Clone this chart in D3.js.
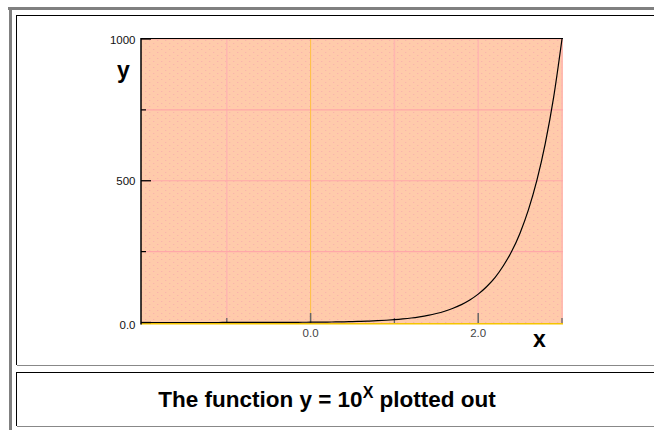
<!DOCTYPE html>
<html><head><meta charset="utf-8">
<script src="https://cdn.jsdelivr.net/npm/d3@7"></script>
<style>html,body{margin:0;padding:0;background:#fff;}svg{display:block;}</style>
</head><body>
<script>
// ---- data ----
const xValues = [-2.0,-1.9,-1.8,-1.7,-1.6,-1.5,-1.4,-1.3,-1.2,-1.1,-1.0,-0.9,-0.8,-0.7,-0.6,-0.5,-0.4,-0.3,-0.2,-0.1,
  0.0,0.1,0.2,0.3,0.4,0.5,0.6,0.7,0.8,0.9,1.0,1.1,1.2,1.3,1.4,1.5,1.6,1.7,1.8,1.9,
  2.0,2.1,2.2,2.3,2.4,2.5,2.6,2.7,2.8,2.9,3.0];
const yValues = [0.01,0.0126,0.0158,0.02,0.0251,0.0316,0.0398,0.0501,0.0631,0.0794,0.1,0.126,0.158,0.2,0.251,0.316,0.398,0.501,0.631,0.794,
  1,1.26,1.58,2.0,2.51,3.16,3.98,5.01,6.31,7.94,10,12.6,15.8,20.0,25.1,31.6,39.8,50.1,63.1,79.4,
  100,126,158,200,251,316,398,501,631,794,1000];
const yTickValues = [0, 500, 1000];
const yTickLabels = ["0.0", "500", "1000"];
const yMinorTicks = [250, 750];
const xTickValues = [0, 2];
const xTickLabels = ["0.0", "2.0"];
const xMinorTicks = [-1, 1, 3];
const xGrid = [-1, 1, 2, 3];
const yGrid = [250, 500, 750, 1000];
const titleMain = "The function y = 10";
const titleSup = "X";
const titleEnd = " plotted out";

// ---- layout ----
const W = 654, H = 430;
const svg = d3.select("body").append("svg").attr("width", W).attr("height", H);
const FONT = "Liberation Sans, Arial, sans-serif";

// outer frame
svg.append("rect").attr("x", 8).attr("y", 7).attr("width", W).attr("height", 3).attr("fill", "#808080");
svg.append("rect").attr("x", 9).attr("y", 7).attr("width", 3).attr("height", H).attr("fill", "#808080");

// panels
function panel(y0, y1) {
  svg.append("line").attr("x1", 16).attr("x2", W).attr("y1", y0 + 0.5).attr("y2", y0 + 0.5).attr("stroke", "#000");
  svg.append("line").attr("x1", 16.5).attr("x2", 16.5).attr("y1", y0).attr("y2", y1).attr("stroke", "#000");
  svg.append("line").attr("x1", 17).attr("x2", W).attr("y1", y1 + 0.5).attr("y2", y1 + 0.5).attr("stroke", "#888");
}
panel(15, 365);
panel(372, 426);

// plot area
const L = 141, R = 563, T = 38.5, B = 323;
const x = d3.scaleLinear().domain([-2, 3]).range([143, 562]);
const y = d3.scaleLinear().domain([0, 1000]).range([322.5, 39]);

const defs = svg.append("defs");
const pat = defs.append("pattern").attr("id", "dots").attr("patternUnits", "userSpaceOnUse")
  .attr("width", 8).attr("height", 6);
pat.append("rect").attr("width", 8).attr("height", 6).attr("fill", "#FFCBAB");
pat.append("rect").attr("x", 1).attr("y", 1).attr("width", 1.3).attr("height", 1).attr("fill", "#F9B3AC");
pat.append("rect").attr("x", 5).attr("y", 4).attr("width", 1.3).attr("height", 1).attr("fill", "#F9B3AC");

svg.append("rect").attr("x", L).attr("y", T).attr("width", R - L).attr("height", B - T).attr("fill", "url(#dots)");

// grid
svg.selectAll(".vg").data(xGrid).enter().append("line")
  .attr("x1", d => x(d)).attr("x2", d => x(d)).attr("y1", T).attr("y2", B)
  .attr("stroke", "#FFB6B0").attr("stroke-width", 1.5);
svg.selectAll(".hg").data(yGrid).enter().append("line")
  .attr("x1", L).attr("x2", R).attr("y1", d => y(d)).attr("y2", d => y(d))
  .attr("stroke", "#FFA8A8").attr("stroke-width", 1.2);
// zero line x=0
svg.append("line").attr("x1", x(0)).attr("x2", x(0)).attr("y1", T).attr("y2", B)
  .attr("stroke", "#FFC040").attr("stroke-width", 1);
// bottom axis (yellow)
svg.append("line").attr("x1", L).attr("x2", R).attr("y1", 323.8).attr("y2", 323.8)
  .attr("stroke", "#F5C400").attr("stroke-width", 1.6);
// top border
svg.append("line").attr("x1", L).attr("x2", R).attr("y1", T).attr("y2", T).attr("stroke", "#000").attr("stroke-width", 1);
// left axis
svg.append("line").attr("x1", 141).attr("x2", 141).attr("y1", T - 0.5).attr("y2", 324.5).attr("stroke", "#000").attr("stroke-width", 1.5);

// y ticks
svg.selectAll(".yt").data(yTickValues).enter().append("line")
  .attr("x1", 141).attr("x2", 151).attr("y1", d => y(d)).attr("y2", d => y(d))
  .attr("stroke", "#000").attr("stroke-width", 1.3);
svg.selectAll(".ym").data(yMinorTicks).enter().append("line")
  .attr("x1", 141).attr("x2", 146).attr("y1", d => y(d)).attr("y2", d => y(d))
  .attr("stroke", "#000").attr("stroke-width", 1.2);
svg.selectAll(".yl").data(yTickValues).enter().append("text")
  .attr("x", 135.5).attr("y", (d, i) => y(d) + (i === 0 ? 6 : 4.5))
  .attr("text-anchor", "end").attr("font-family", FONT)
  .attr("font-size", 11.5).attr("fill", "#111").text((d, i) => yTickLabels[i]);

// x ticks
svg.selectAll(".xt").data(xTickValues).enter().append("line")
  .attr("x1", d => x(d)).attr("x2", d => x(d)).attr("y1", 313).attr("y2", 323)
  .attr("stroke", "#666").attr("stroke-width", 1.5);
svg.selectAll(".xm").data(xMinorTicks).enter().append("line")
  .attr("x1", d => x(d)).attr("x2", d => x(d)).attr("y1", 318).attr("y2", 323)
  .attr("stroke", "#666").attr("stroke-width", 1.3);
svg.selectAll(".xl").data(xTickValues).enter().append("text")
  .attr("x", d => x(d)).attr("y", 336.5).attr("text-anchor", "middle")
  .attr("font-family", FONT).attr("font-size", 11.5)
  .attr("fill", "#444").text((d, i) => xTickLabels[i]);

// curve
const pts = xValues.map((v, i) => [v, yValues[i]]);
const line = d3.line().x(d => x(d[0])).y(d => y(d[1])).curve(d3.curveMonotoneX);
svg.append("path").attr("d", line(pts))
  .attr("fill", "none").attr("stroke", "#000").attr("stroke-width", 1.2);

// axis labels
svg.append("text").attr("x", 123.5).attr("y", 78).attr("text-anchor", "middle")
  .attr("font-family", FONT).attr("font-weight", "bold")
  .attr("font-size", 23).attr("fill", "#000").text("y");
svg.append("text").attr("x", 539.5).attr("y", 347).attr("text-anchor", "middle")
  .attr("font-family", FONT).attr("font-weight", "bold")
  .attr("font-size", 23).attr("fill", "#000").text("x");

// title
const t = svg.append("text").attr("x", 327).attr("y", 407).attr("text-anchor", "middle")
  .attr("font-family", FONT).attr("font-weight", "bold")
  .attr("font-size", 22.5).attr("fill", "#000");
t.append("tspan").text(titleMain);
t.append("tspan").attr("dy", -9).attr("font-size", 16).text(titleSup);
t.append("tspan").attr("dy", 9).text(titleEnd);
</script>
</body></html>
